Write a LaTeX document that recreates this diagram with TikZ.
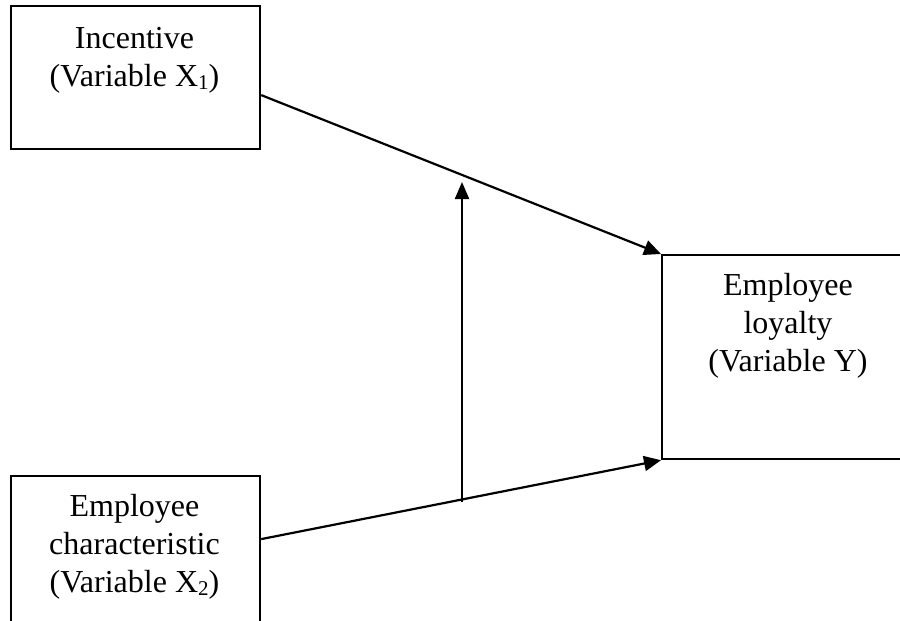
\documentclass[tikz,border=0pt]{standalone}
\usepackage{fontspec}
\setmainfont{Liberation Serif}
\usetikzlibrary{arrows.meta}
\newcommand{\subdig}[1]{\raisebox{-3pt}{\fontsize{21}{21}\selectfont #1}}
\begin{document}
\begin{tikzpicture}[x=1pt,y=-1pt,
  box/.style={draw=black,line width=2.2pt,fill=none,inner sep=0pt,anchor=north west},
  lbl/.style={inner sep=0pt,anchor=north,align=center,font=\fontsize{32}{38}\selectfont},
  arr/.style={line width=2.2pt,-{Triangle[length=17pt,width=15pt]}},
  varr/.style={line width=2.2pt,-{Triangle[length=17pt,width=14pt]}}]
\useasboundingbox (0,0) rectangle (900,621);
\clip (0,0) rectangle (900,621);
\node[box,minimum width=249pt,minimum height=143pt] (inc) at (10,5) {};
\node[box,minimum width=252pt,minimum height=204pt] (loy) at (661,254) {};
\node[box,minimum width=249pt,minimum height=160pt] (chr) at (10,475) {};
\node[lbl] (inct) at (134.5,27) {Incentive\\(Variable X\subdig{1})};
\node[lbl] (loyt) at (788,273) {Employee\\loyalty\\(Variable Y)};
\node[lbl] (chrt) at (134.5,494) {Employee\\characteristic\\(Variable X\subdig{2})};
\coordinate (vb) at (462,502);
\coordinate (vt) at (462,182);
\draw[arr] ([yshift=-17.5pt]inc.east) -- (loy.north west);
\draw[arr] ([yshift=17pt]chr.east) -- (loy.south west);
\draw[varr] (vb) -- (vt);
\end{tikzpicture}
\end{document}
